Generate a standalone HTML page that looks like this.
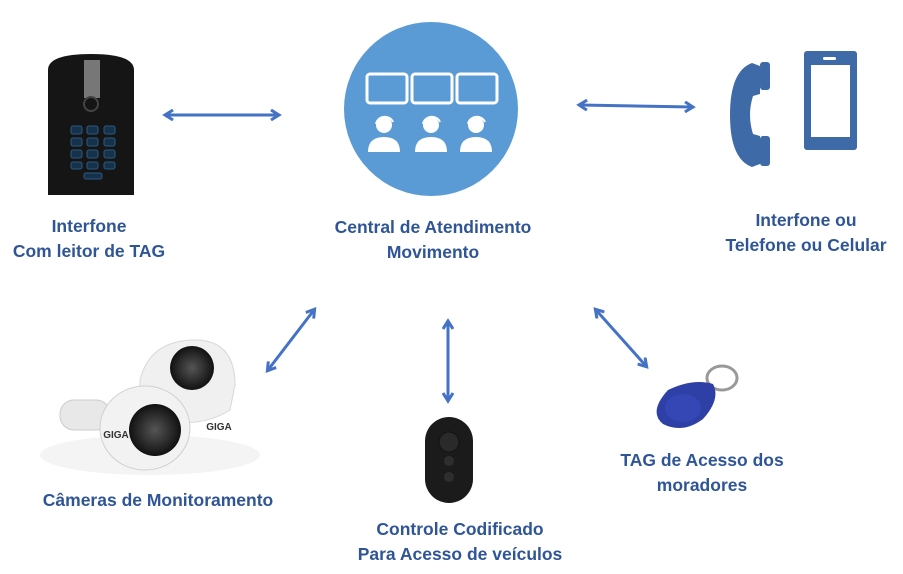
<!DOCTYPE html>
<html><head><meta charset="utf-8"><style>
html,body{margin:0;padding:0;background:#fff;width:903px;height:574px;overflow:hidden}
svg{display:block}
text{font-family:"Liberation Sans",sans-serif;font-weight:bold;fill:#2f5597;font-size:17.5px;text-anchor:middle}
</style></head><body>
<svg width="903" height="574" viewBox="0 0 903 574">
<defs>
<marker id="ah" markerWidth="12" markerHeight="12" refX="8" refY="6" orient="auto-start-reverse" markerUnits="userSpaceOnUse">
<path d="M1,1 L9,6 L1,11" fill="none" stroke="#4472c4" stroke-width="3"/>
</marker>
<radialGradient id="lens" cx="50%" cy="50%" r="50%"><stop offset="0" stop-color="#555"/><stop offset="1" stop-color="#111"/></radialGradient>
</defs>
<g stroke="#4472c4" stroke-width="3" fill="none">
<line x1="166" y1="115" x2="278" y2="115" marker-start="url(#ah)" marker-end="url(#ah)"/>
<line x1="580" y1="105" x2="692" y2="107" marker-start="url(#ah)" marker-end="url(#ah)"/>
<line x1="314" y1="310" x2="268" y2="370" marker-start="url(#ah)" marker-end="url(#ah)"/>
<line x1="448" y1="322" x2="448" y2="400" marker-start="url(#ah)" marker-end="url(#ah)"/>
<line x1="596" y1="310" x2="646" y2="366" marker-start="url(#ah)" marker-end="url(#ah)"/>
</g>
<circle cx="431" cy="109" r="87" fill="#5b9bd5"/>
<g fill="none" stroke="#fff" stroke-width="3">
<rect x="367" y="74" width="40" height="29" rx="3"/>
<rect x="412" y="74" width="40" height="29" rx="3"/>
<rect x="457" y="74" width="40" height="29" rx="3"/>
</g>
<g fill="#fff">
<circle cx="384" cy="125" r="8"/><path d="M368,152 q0,-15 16,-15 q16,0 16,15z"/>
<circle cx="431" cy="125" r="8"/><path d="M415,152 q0,-15 16,-15 q16,0 16,15z"/>
<circle cx="476" cy="125" r="8"/><path d="M460,152 q0,-15 16,-15 q16,0 16,15z"/>
</g>
<g fill="none" stroke="#fff" stroke-width="2">
<path d="M376,124 a9,9 0 0 1 17,-2"/><path d="M423,124 a9,9 0 0 1 17,-2"/><path d="M468,124 a9,9 0 0 1 17,-2"/>
</g>
<path d="M48,70 q0,-16 43,-16 q43,0 43,16 v125 h-86z" fill="#151515"/>
<rect x="84" y="60" width="16" height="38" fill="#777"/>
<circle cx="91" cy="104" r="7" fill="none" stroke="#444" stroke-width="2"/>
<g fill="#16324a" stroke="#2a5a80">
<rect x="71" y="126" width="11" height="8" rx="2"/><rect x="87" y="126" width="11" height="8" rx="2"/><rect x="104" y="126" width="11" height="8" rx="2"/>
<rect x="71" y="138" width="11" height="8" rx="2"/><rect x="87" y="138" width="11" height="8" rx="2"/><rect x="104" y="138" width="11" height="8" rx="2"/>
<rect x="71" y="150" width="11" height="8" rx="2"/><rect x="87" y="150" width="11" height="8" rx="2"/><rect x="104" y="150" width="11" height="8" rx="2"/>
<rect x="71" y="162" width="11" height="7" rx="2"/><rect x="87" y="162" width="11" height="7" rx="2"/><rect x="104" y="162" width="11" height="7" rx="2"/>
<rect x="84" y="173" width="18" height="6" rx="2"/>
</g>
<path d="M752,63 q-22,8 -22,52 q0,44 22,52 l8,-3 v-28 l-7,-2 q-6,-19 0,-38 l7,-2 v-28z" fill="#3e6aa8"/>
<rect x="760" y="62" width="10" height="28" rx="3" fill="#3e6aa8"/>
<rect x="760" y="136" width="10" height="30" rx="3" fill="#3e6aa8"/>
<rect x="804" y="51" width="53" height="99" rx="3" fill="#3e6aa8"/>
<rect x="811" y="65" width="39" height="72" fill="#fff"/>
<rect x="823" y="57" width="13" height="3" rx="1.5" fill="#fff"/>
<ellipse cx="150" cy="455" rx="110" ry="20" fill="#f4f4f4"/>
<path d="M140,380 q10,-40 55,-40 q40,0 40,45 l-5,25 q-40,25 -90,0z" fill="#f0f0f0" stroke="#d8d8d8"/>
<circle cx="192" cy="368" r="22" fill="url(#lens)"/>
<rect x="60" y="400" width="50" height="30" rx="14" fill="#e8e8e8" stroke="#ccc"/>
<ellipse cx="145" cy="428" rx="45" ry="42" fill="#f2f2f2" stroke="#d0d0d0"/>
<circle cx="155" cy="430" r="26" fill="url(#lens)"/>
<text x="116" y="438" style="font-size:10px;fill:#333;font-weight:bold">GIGA</text>
<text x="219" y="430" style="font-size:10px;fill:#333;font-weight:bold">GIGA</text>
<rect x="425" y="417" width="48" height="86" rx="24" fill="#1b1b1b"/>
<circle cx="449" cy="442" r="10" fill="#2a2a2a" stroke="#111"/>
<circle cx="449" cy="461" r="5" fill="#2e2e2e"/>
<circle cx="449" cy="477" r="5" fill="#2e2e2e"/>
<ellipse cx="722" cy="378" rx="15" ry="12" fill="none" stroke="#999" stroke-width="3"/>
<path d="M668,390 q25,-12 45,-6 q8,15 -10,35 q-20,15 -40,5 q-15,-12 5,-34z" fill="#2e3fa6"/>
<ellipse cx="683" cy="408" rx="18" ry="14" fill="#3447b5"/>
<text x="89" y="232">Interfone</text>
<text x="89" y="257">Com leitor de TAG</text>
<text x="433" y="233">Central de Atendimento</text>
<text x="433" y="258">Movimento</text>
<text x="806" y="226">Interfone ou</text>
<text x="806" y="251">Telefone ou Celular</text>
<text x="158" y="506">Câmeras de Monitoramento</text>
<text x="460" y="535">Controle Codificado</text>
<text x="460" y="560">Para Acesso de veículos</text>
<text x="702" y="466">TAG de Acesso dos</text>
<text x="702" y="491">moradores</text>
</svg>
</body></html>
